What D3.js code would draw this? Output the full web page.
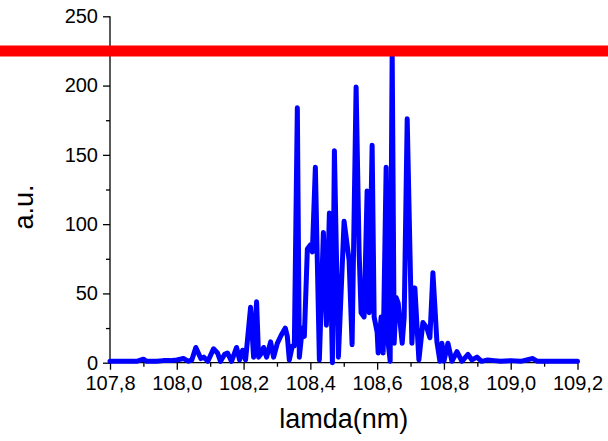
<!DOCTYPE html>
<html>
<head>
<meta charset="utf-8">
<script src="https://cdn.jsdelivr.net/npm/d3@7"></script>
<style>
  body { margin: 0; background: #fff; }
  svg { display: block; font-family: "Liberation Sans", Arial, sans-serif; }
</style>
</head>
<body>
<div id="graphic"></div>
<script>
// spectrum
const lamda = [
  107.80, 107.83, 107.86, 107.88, 107.90, 107.91, 107.94, 107.96, 107.98, 108.00,
  108.02, 108.035, 108.045, 108.057, 108.072, 108.081, 108.093, 108.110, 108.122, 108.131,
  108.143, 108.152, 108.164, 108.179, 108.188, 108.197, 108.206, 108.221, 108.230, 108.239,
  108.245, 108.254, 108.260, 108.269, 108.281, 108.290, 108.301, 108.313, 108.325, 108.331,
  108.337, 108.346, 108.352, 108.361, 108.367, 108.376, 108.382, 108.391, 108.400, 108.406,
  108.415, 108.427, 108.439, 108.448, 108.457, 108.466, 108.472, 108.484, 108.501, 108.516,
  108.525, 108.537, 108.546, 108.552, 108.561, 108.570, 108.576, 108.585, 108.591, 108.600,
  108.603, 108.612, 108.618, 108.627, 108.633, 108.639, 108.645, 108.651, 108.657, 108.663,
  108.675, 108.681, 108.690, 108.704, 108.713, 108.725, 108.737, 108.749, 108.758, 108.767,
  108.779, 108.788, 108.794, 108.800, 108.812, 108.824, 108.839, 108.854, 108.872, 108.884,
  108.899, 108.913, 108.931, 108.95, 108.97, 109.00, 109.03, 109.066, 109.08, 109.12,
  109.16, 109.20
];
const intensity = [
  1, 1, 1, 1, 2.5, 1, 1, 1.5, 1.5, 2,
  3, 1, 2, 11, 3, 4, 1, 10, 7, 1,
  6, 7, 1, 11, 2, 9, 2, 40, 4, 44,
  4, 7, 11, 4, 15, 4, 14, 20, 25, 19,
  2, 12, 12, 184, 4, 25, 19, 82, 85, 80,
  141, 2, 94, 27, 108, 0, 153, 4, 102, 74,
  13, 199, 80, 36, 33, 124, 36, 157, 33, 22,
  7, 33, 7, 141, 14, 1, 225, 14, 47, 43,
  14, 33, 176, 14, 54, 2, 29, 25, 18, 65,
  15, 1, 14, 1, 14, 1, 8, 1, 6, 2,
  4, 1, 2, 1.5, 1, 1.5, 1, 3, 1, 1,
  1, 1
];
const xTicks = [107.8, 108.0, 108.2, 108.4, 108.6, 108.8, 109.0, 109.2];
const xMinor = [107.9, 108.1, 108.3, 108.5, 108.7, 108.9, 109.1];
const yTicks = [0, 50, 100, 150, 200, 250];
const yMinor = [25, 75, 125, 175, 225];
const limitLevel = 225;

// set the dimensions and margins of the graph
const margin = {top: 16.3, right: 30.5, bottom: 78.3, left: 110};
const width = 608 - margin.left - margin.right;
const height = 441 - margin.top - margin.bottom;

const svg = d3.select("#graphic")
    .append("svg")
    .attr("width", width + margin.left + margin.right)
    .attr("height", height + margin.top + margin.bottom)
    .append("g")
        .attr("transform", `translate(${margin.left}, ${margin.top})`);

const x = d3.scaleLinear().domain([107.8, 109.2]).range([0, width]);
const y = d3.scaleLinear().domain([0, 250]).range([height, 0]);

// decimal comma like the original
const fmt = d3.formatLocale({decimal: ",", thousands: ".", grouping: [3], currency: ["", ""]}).format(".1f");

// minor ticks first, then the labelled axes
svg.append("g")
    .attr("transform", `translate(0, ${height})`)
    .call(d3.axisBottom(x).tickValues(xMinor).tickSize(4).tickFormat(""))
    .call(g => g.select(".domain").remove());
svg.append("g")
    .call(d3.axisLeft(y).tickValues(yMinor).tickSize(4).tickFormat(""))
    .call(g => g.select(".domain").remove());

const xAxis = svg.append("g")
    .attr("transform", `translate(0, ${height})`)
    .call(d3.axisBottom(x).tickValues(xTicks).tickSize(7).tickPadding(6).tickFormat(fmt));
const yAxis = svg.append("g")
    .call(d3.axisLeft(y).tickValues(yTicks).tickSize(7).tickPadding(5));

[xAxis, yAxis].forEach(a => {
    a.selectAll("text").style("font-size", "20px").style("fill", "#000")
        .style("font-family", '"Liberation Sans", Arial, sans-serif');
    a.select(".domain").style("stroke", "#000").style("stroke-width", 1.3)
        .attr("d", a === xAxis ? `M0,0H${width}` : `M0,${height}V0`);
});
svg.selectAll(".tick line").style("stroke", "#000").style("stroke-width", 1.3);

// axis titles
svg.append("text")
    .attr("x", width / 2)
    .attr("y", height + 65)
    .attr("text-anchor", "middle")
    .style("font-size", "27px")
    .text("lamda(nm)");

svg.append("text")
    .attr("transform", `translate(${33 - margin.left}, ${207 - margin.top}) rotate(-90)`)
    .attr("text-anchor", "middle")
    .style("font-size", "27px")
    .text("a.u.");

// the spectrum
const points = lamda.map((d, i) => [d, intensity[i]]);
const line = d3.line()
    .x(d => x(d[0]))
    .y(d => y(d[1]));

svg.append("path")
    .datum(points)
    .attr("fill", "none")
    .attr("stroke", "#0000ff")
    .attr("stroke-width", 5)
    .attr("stroke-linejoin", "round")
    .attr("stroke-linecap", "round")
    .attr("d", line);

// red level line across the whole figure
svg.append("line")
    .attr("x1", -margin.left)
    .attr("x2", width + margin.right)
    .attr("y1", y(limitLevel))
    .attr("y2", y(limitLevel))
    .style("stroke", "#ff0000")
    .style("stroke-width", 11);
</script>
</body>
</html>
